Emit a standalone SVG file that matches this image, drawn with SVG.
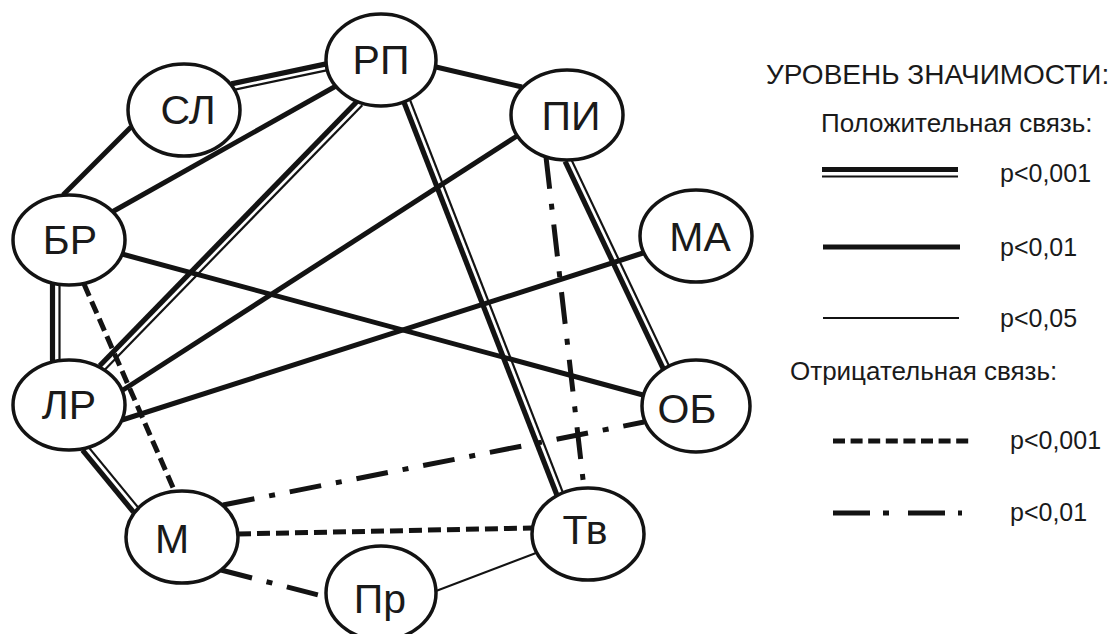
<svg xmlns="http://www.w3.org/2000/svg" width="1114" height="634" viewBox="0 0 1114 634">
<style>
.bg{fill:#ffffff}
line{stroke:#131313;fill:none;stroke-linecap:butt}
.thick{stroke-width:5}
.dthick{stroke-width:5.2}
.thin{stroke-width:2}
.dthin{stroke-width:2.2}
.dash{stroke-width:5;stroke-dasharray:13 6}
.dashdot{stroke-width:5;stroke-dasharray:32 15 6 15}
.node ellipse{fill:#ffffff;stroke:#131313;stroke-width:3.5}
.node text{font-family:"Liberation Sans",Arial,sans-serif;font-size:41px;fill:#1a1a1a;text-anchor:middle}
.leg text{font-family:"Liberation Sans",Arial,sans-serif;font-size:25px;fill:#1a1a1a}
</style>
<rect class="bg" x="0" y="0" width="1114" height="634"/>
<g id="connectors">
  <!-- СЛ–РП double -->
  <line class="dthick" x1="231.3" y1="83.9" x2="326.3" y2="63.9"/>
  <line class="dthin" x1="232.7" y1="90.1" x2="327.7" y2="70.1"/>
  <!-- СЛ–БР -->
  <line class="thick" x1="131" y1="127" x2="63" y2="195"/>
  <!-- РП–БР -->
  <line class="thick" x1="336" y1="86" x2="112" y2="212"/>
  <!-- РП–ЛР double -->
  <line class="dthick" x1="357.7" y1="100.8" x2="99.7" y2="365.8"/>
  <line class="dthin" x1="362.3" y1="105.2" x2="104.3" y2="370.2"/>
  <!-- РП–Тв double -->
  <line class="dthick" x1="404" y1="102.2" x2="557" y2="495.2"/>
  <line class="dthin" x1="410" y1="99.8" x2="563" y2="492.8"/>
  <!-- РП–ПИ -->
  <line class="thick" x1="436" y1="67" x2="522" y2="87"/>
  <!-- ПИ–ЛР -->
  <line class="thick" x1="517" y1="136" x2="123" y2="390"/>
  <!-- ПИ–Тв dash-dot -->
  <line class="dashdot" x1="546" y1="157" x2="584" y2="488"/>
  <!-- ПИ–ОБ double -->
  <line class="dthick" x1="565.1" y1="161.4" x2="663.1" y2="368.4"/>
  <line class="dthin" x1="570.9" y1="158.6" x2="668.9" y2="365.6"/>
  <!-- МА–ЛР -->
  <line class="thick" x1="643" y1="253" x2="122" y2="420"/>
  <!-- БР–ОБ -->
  <line class="thick" x1="122" y1="254" x2="643" y2="395"/>
  <!-- БР–ЛР double -->
  <line class="dthick" x1="52.5" y1="283" x2="52.5" y2="362"/>
  <line class="dthin" x1="59.5" y1="284" x2="59.5" y2="361"/>
  <!-- БР–М dashed -->
  <line class="dash" x1="84" y1="284" x2="175" y2="492"/>
  <!-- ЛР–М double -->
  <line class="dthick" x1="82.5" y1="450.1" x2="133.5" y2="512.1"/>
  <line class="dthin" x1="87.5" y1="445.9" x2="138.5" y2="507.9"/>
  <!-- М–ОБ dash-dot -->
  <line class="dashdot" x1="223" y1="505" x2="644" y2="422"/>
  <!-- М–Тв dashed -->
  <line class="dash" x1="238" y1="534" x2="532" y2="528"/>
  <!-- М–Пр dash-dot -->
  <line class="dashdot" x1="221" y1="570" x2="326" y2="597"/>
  <!-- Пр–Тв thin -->
  <line class="thin" x1="436" y1="591" x2="536" y2="553"/>
</g>
<g id="node-RP" class="node"><ellipse cx="381" cy="60" rx="55" ry="46"/><text x="381" y="74">РП</text></g>
<g id="node-SL" class="node"><ellipse cx="184" cy="110" rx="56" ry="46"/><text x="188" y="124">СЛ</text></g>
<g id="node-PI" class="node"><ellipse cx="567" cy="115" rx="56" ry="45"/><text x="571" y="130">ПИ</text></g>
<g id="node-BR" class="node"><ellipse cx="69" cy="240" rx="56" ry="45"/><text x="70" y="254">БР</text></g>
<g id="node-MA" class="node"><ellipse cx="696" cy="236" rx="56" ry="46"/><text x="700" y="251">МА</text></g>
<g id="node-LR" class="node"><ellipse cx="69" cy="405" rx="56" ry="45"/><text x="69" y="419">ЛР</text></g>
<g id="node-OB" class="node"><ellipse cx="696" cy="406" rx="54" ry="46"/><text x="687" y="423">ОБ</text></g>
<g id="node-M" class="node"><ellipse cx="182" cy="537" rx="56" ry="46"/><text x="172" y="553">М</text></g>
<g id="node-Tv" class="node"><ellipse cx="588" cy="534" rx="56" ry="46"/><text x="585" y="544">Тв</text></g>
<g id="node-Pr" class="node"><ellipse cx="381" cy="593" rx="55" ry="47"/><text x="380" y="613">Пр</text></g>
<g id="legend" class="leg">
  <text x="766" y="84" style="font-size:28px">УРОВЕНЬ ЗНАЧИМОСТИ:</text>
  <text x="821" y="132" style="font-size:26px">Положительная связь:</text>
  <line class="dthick" x1="822" y1="169.5" x2="958" y2="169.5"/>
  <line class="dthin" x1="822" y1="176.5" x2="958" y2="176.5"/>
  <text x="1000" y="182">p&lt;0,001</text>
  <line class="thick" x1="823" y1="247" x2="960" y2="247"/>
  <text x="1000" y="256">p&lt;0,01</text>
  <line class="thin" x1="823" y1="318" x2="959" y2="318"/>
  <text x="1000" y="327">p&lt;0,05</text>
  <text x="790" y="380" style="font-size:26px">Отрицательная связь:</text>
  <line class="dash" x1="833" y1="441" x2="969" y2="441" style="stroke-dasharray:12 5.6"/>
  <text x="1010" y="449">p&lt;0,001</text>
  <line class="dashdot" x1="833" y1="513" x2="962" y2="513" style="stroke-dasharray:37 13 6 19"/>
  <text x="1010" y="521">p&lt;0,01</text>
</g>
</svg>
